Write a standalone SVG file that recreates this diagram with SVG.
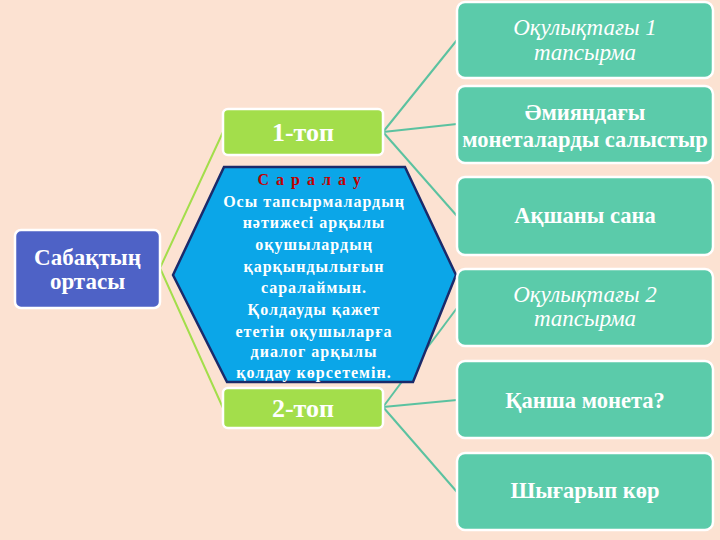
<svg xmlns="http://www.w3.org/2000/svg" width="720" height="540" viewBox="0 0 720 540">
<style>
.t{font-family:"Liberation Serif","DejaVu Serif",serif;fill:#fff;text-anchor:middle;font-weight:bold}
.r{font-size:22.5px}
.it{font-weight:normal;font-style:italic;font-size:23px}
.task{fill:#5BCBAA;stroke:#fff;stroke-width:2.5}
.grp{fill:#A3DE4B;stroke:#fff;stroke-width:2.5}
.lg{stroke:#A3DE4B;stroke-width:2;fill:none}
.lt{stroke:#5BC2A0;stroke-width:2;fill:none}
.hx{font-family:"Liberation Serif","DejaVu Serif",serif;fill:#fff;text-anchor:middle;font-weight:bold;font-size:16px;letter-spacing:1px}
</style>
<rect width="720" height="540" fill="#FCE2D2"/>
<g id="connectors">
<polyline class="lg" points="223,132 160,268 223,408"/>
<line class="lt" x1="383" y1="132" x2="457" y2="40"/>
<line class="lt" x1="383" y1="132" x2="457" y2="124"/>
<line class="lt" x1="383" y1="132" x2="457" y2="216"/>
<line class="lt" x1="383" y1="407" x2="457" y2="308"/>
<line class="lt" x1="383" y1="407" x2="457" y2="400"/>
<line class="lt" x1="383" y1="407" x2="457" y2="492"/>
</g>
<g id="root">
<rect x="15" y="230" width="145" height="78" rx="6" fill="#4E62C6" stroke="#fff" stroke-width="2.5"/>
<text class="t" font-size="23" x="87.5" y="265">Сабақтың</text>
<text class="t" font-size="23" x="87.5" y="289">ортасы</text>
</g>
<g id="group1">
<rect class="grp" x="223" y="109" width="160" height="46" rx="5"/>
<text class="t" font-size="26" x="303" y="141">1-топ</text>
</g>
<g id="group2">
<rect class="grp" x="223" y="388" width="160" height="40" rx="5"/>
<text class="t" font-size="26" x="303" y="417">2-топ</text>
</g>
<g id="saralau">
<polygon points="173,275 224,167 405,167 456,275 413,382 227,382" fill="#0BA6E8" stroke="#1B2A6A" stroke-width="2.5"/>
<text x="310" y="185" font-family="Liberation Serif,serif" font-weight="bold" font-size="16" letter-spacing="1.5" fill="#C00000" text-anchor="middle">С а р а л а у</text>
<text class="hx" x="314" y="207">Осы тапсырмалардың</text>
<text class="hx" x="314" y="228">нәтижесі арқылы</text>
<text class="hx" x="314" y="250">оқушылардың</text>
<text class="hx" x="314" y="272">қарқындылығын</text>
<text class="hx" x="314" y="293">саралаймын.</text>
<text class="hx" x="314" y="315">Қолдауды қажет</text>
<text class="hx" x="314" y="337">ететін оқушыларға</text>
<text class="hx" x="314" y="357">диалог арқылы</text>
<text class="hx" x="314" y="378">қолдау көрсетемін.</text>
</g>
<g id="task1">
<rect class="task" x="457" y="2" width="256" height="76" rx="8"/>
<text class="t it" x="585" y="35">Оқулықтағы 1</text>
<text class="t it" x="585" y="60">тапсырма</text>
</g>
<g id="task2">
<rect class="task" x="457" y="86" width="256" height="77" rx="8"/>
<text class="t r" x="585" y="120">Әмияндағы</text>
<text class="t r" x="585" y="147">монеталарды салыстыр</text>
</g>
<g id="task3">
<rect class="task" x="457" y="177" width="256" height="78" rx="8"/>
<text class="t r" x="585" y="223">Ақшаны сана</text>
</g>
<g id="task4">
<rect class="task" x="457" y="269" width="256" height="77" rx="8"/>
<text class="t it" x="585" y="302">Оқулықтағы 2</text>
<text class="t it" x="585" y="326">тапсырма</text>
</g>
<g id="task5">
<rect class="task" x="457" y="361" width="256" height="77" rx="8"/>
<text class="t r" x="585" y="408">Қанша монета?</text>
</g>
<g id="task6">
<rect class="task" x="457" y="453" width="256" height="77" rx="8"/>
<text class="t r" x="585" y="498">Шығарып көр</text>
</g>
</svg>
